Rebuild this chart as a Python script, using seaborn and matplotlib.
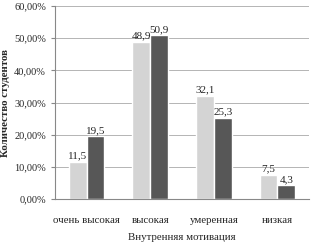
import matplotlib
matplotlib.use("Agg")
import matplotlib.pyplot as plt
import seaborn as sns
import pandas as pd
from matplotlib.ticker import FuncFormatter

categories = ["очень высокая", "высокая", "умеренная", "низкая"]
series_names = ["Группа 1", "Группа 2"]
values_1 = [11.5, 48.9, 32.1, 7.5]
values_2 = [19.5, 50.9, 25.3, 4.3]

df = pd.DataFrame({
    "cat": categories * 2,
    "group": [series_names[0]] * 4 + [series_names[1]] * 4,
    "val": values_1 + values_2,
})

sns.set_style("white")
plt.rcParams["font.family"] = ["Liberation Serif", "DejaVu Serif"]

fig = plt.figure(figsize=(3.12, 2.49), dpi=100)
ax = fig.add_axes([0.176, 0.2, 0.815, 0.776])
sns.barplot(data=df, x="cat", y="val", hue="group", order=categories,
            palette=["#d4d4d4", "#575757"], width=0.56, legend=False,
            saturation=1, ax=ax)

for cont in ax.containers:
    ax.bar_label(cont, labels=[f"{v:.1f}".replace(".", ",") for v in cont.datavalues],
                 fontsize=8, padding=1)

ax.set_ylim(0, 60)
ax.set_yticks(range(0, 61, 10))
ax.yaxis.set_major_formatter(FuncFormatter(lambda v, p: f"{v:.2f}".replace(".", ",") + "%"))
ax.yaxis.grid(True, color="#a8a8a8", linewidth=0.6)
ax.set_axisbelow(True)
ax.tick_params(axis="y", labelsize=7.5, length=3, left=True, color="#888888")
ax.tick_params(axis="x", labelsize=7.8, length=0, pad=12)
for s in ["top", "right"]:
    ax.spines[s].set_visible(False)
for s in ["left", "bottom"]:
    ax.spines[s].set_color("#888888")
    ax.spines[s].set_linewidth(0.8)

ax.set_xlabel("Внутренняя мотивация", fontsize=7.8, labelpad=6)
ax.set_ylabel("Количество студентов", fontsize=7.8, fontweight="bold", labelpad=3)

fig.savefig("out.png", dpi=100)
